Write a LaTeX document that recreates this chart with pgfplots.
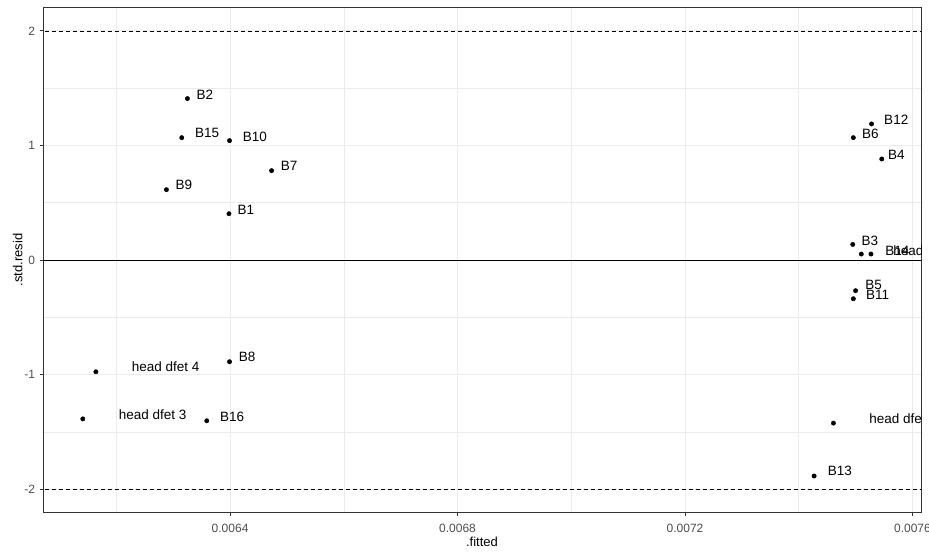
\documentclass[border=0pt]{standalone}
\usepackage{pgfplots}
\pgfplotsset{compat=1.18}
\usepackage{pgfplotstable}
\usepackage{fontspec}
\setmainfont{Liberation Sans}
\definecolor{gridc}{HTML}{EBEBEB}
\definecolor{axc}{HTML}{333333}
\definecolor{tlc}{HTML}{4D4D4D}

\pgfplotstableread{
x y
0.006325 1.409
0.006315 1.068
0.006399 1.042
0.006473 0.780
0.006288 0.614
0.006398 0.404
0.006399 -0.888
0.006359 -1.404
0.006164 -0.976
0.006141 -1.387
0.007528 1.188
0.007496 1.068
0.007546 0.882
0.007495 0.136
0.007510 0.052
0.007527 0.052
0.007500 -0.268
0.007496 -0.338
0.007461 -1.424
0.007427 -1.886
}\pts

\tikzset{lab/.style={anchor=west, inner sep=0pt, font=\fontsize{13.5}{13.5}\selectfont}}

\begin{document}
\begin{tikzpicture}
\useasboundingbox (-43pt,-45pt) rectangle (886pt,512pt);
\begin{axis}[
  at={(0pt,0pt)}, anchor=south west,
  scale only axis, width=878pt, height=504pt,
  xmin=0.006071, xmax=0.007615,
  ymin=-2.2, ymax=2.2,
  axis line style={axc, line width=1pt},
  xtick={0.0064,0.0068,0.0072,0.0076},
  xticklabels={0.0064,0.0068,0.0072,0.0076},
  minor xtick={0.0062,0.0066,0.0070,0.0074},
  ytick={-2,-1,0,1,2},
  yticklabels={-2,-1,0,1,2},
  minor ytick={-1.5,-0.5,0.5,1.5},
  scaled x ticks=false,
  xtick pos=bottom, ytick pos=left,
  tick align=outside,
  major tick length=3.5pt, minor tick length=0pt,
  tick style={axc, line width=1pt},
  grid=both,
  major grid style={gridc, line width=1pt},
  minor grid style={gridc, line width=0.6pt},
  ticklabel style={font=\fontsize{12}{12}\selectfont, text=tlc},
  xticklabel style={yshift=-5pt},
  yticklabel style={xshift=-1pt},
  label style={font=\fontsize{13}{13}\selectfont, text=black},
  xlabel={.fitted},
  ylabel={.std.resid},
  xlabel style={at={(axis description cs:0.5,0)}, anchor=north, yshift=-22pt},
  ylabel style={at={(axis description cs:0,0.5)}, anchor=south, xshift=0pt, yshift=17pt},
  clip=true,
]
\addplot[black, line width=0.9pt, forget plot] coordinates {(0.006,0) (0.0077,0)};
\addplot[black, line width=0.8pt, dash pattern=on 4pt off 3pt, forget plot] coordinates {(0.006,2) (0.0077,2)};
\addplot[black, line width=0.8pt, dash pattern=on 4pt off 3pt, forget plot] coordinates {(0.006,-2) (0.0077,-2)};
\addplot[only marks, mark=*, mark size=2.2pt, black] table[x=x,y=y] {\pts};
\begin{scope}
\clip (rel axis cs:0,0) rectangle (rel axis cs:1,1);
\node[lab] at (axis cs:0.006341,1.444) {B2};
\node[lab] at (axis cs:0.006338,1.112) {B15};
\node[lab] at (axis cs:0.006422,1.077) {B10};
\node[lab] at (axis cs:0.006489,0.823) {B7};
\node[lab] at (axis cs:0.006304,0.652) {B9};
\node[lab] at (axis cs:0.006413,0.439) {B1};
\node[lab] at (axis cs:0.006415,-0.844) {B8};
\node[lab] at (axis cs:0.006382,-1.369) {B16};
\node[lab] at (axis cs:0.006227,-0.932) {head dfet 4};
\node[lab] at (axis cs:0.006204,-1.352) {head dfet 3};
\node[lab] at (axis cs:0.007550,1.225) {B12};
\node[lab] at (axis cs:0.007511,1.103) {B6};
\node[lab] at (axis cs:0.007557,0.918) {B4};
\node[lab] at (axis cs:0.007510,0.168) {B3};
\node[lab] at (axis cs:0.007552,0.081) {B14};
\node[lab] at (axis cs:0.007566,0.081) {head dfet 1};
\node[lab] at (axis cs:0.007517,-0.216) {B5};
\node[lab] at (axis cs:0.007518,-0.303) {B11};
\node[lab] at (axis cs:0.007524,-1.386) {head dfet 2};
\node[lab] at (axis cs:0.007451,-1.843) {B13};
\end{scope}
\end{axis}
\end{tikzpicture}
\end{document}
